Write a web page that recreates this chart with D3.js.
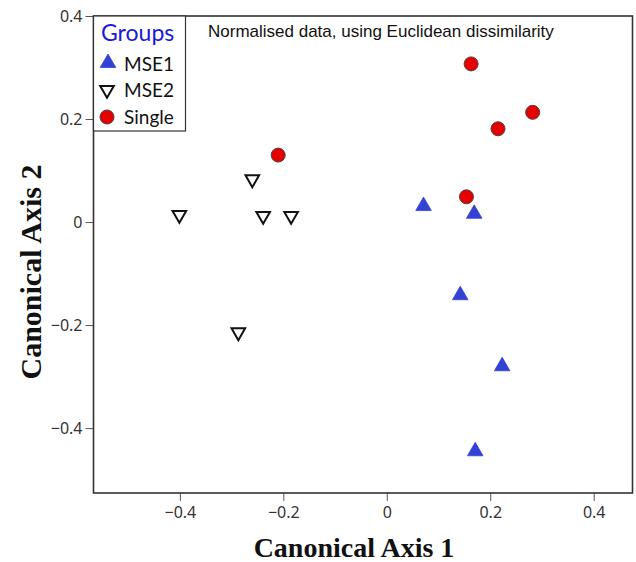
<!DOCTYPE html>
<html>
<head>
<meta charset="utf-8">
<script src="https://cdn.jsdelivr.net/npm/d3@7"></script>
<style>
  body { margin: 0; background: #fff; }
</style>
</head>
<body>
<div class="canvas"></div>
<script>
// group names and points
const groups = ["MSE1", "MSE2", "Single"];
const mse1 = [[0.071, 0.031], [0.169, 0.016], [0.142, -0.142], [0.223, -0.28], [0.171, -0.445]];
const mse2 = [[-0.401, 0.014], [-0.26, 0.083], [-0.239, 0.012], [-0.185, 0.012], [-0.287, -0.214]];
const single = [[0.163, 0.307], [0.282, 0.213], [0.215, 0.181], [0.154, 0.049], [-0.21, 0.13]];
const xTicks = [-0.4, -0.2, 0, 0.2, 0.4];
const yTicks = [-0.4, -0.2, 0, 0.2, 0.4];

const W = 636, H = 562;
const pl = 93.5, pr = 632.5, pt = 16, pb = 493;

const svg = d3.select(".canvas")
  .append("svg")
  .attr("width", W)
  .attr("height", H)
  .style("display", "block");

const x = d3.scaleLinear().domain([-0.567, 0.475]).range([pl, pr]);
const y = d3.scaleLinear().domain([-0.526, 0.4]).range([pb, pt]);

const fmt = d => (d === 0 ? "0" : d3.format(".1f")(d));

const xAxis = svg.append("g")
  .attr("transform", `translate(0,${pb})`)
  .call(d3.axisBottom(x).tickValues(xTicks).tickFormat(fmt).tickSize(8).tickPadding(6));
const yAxis = svg.append("g")
  .attr("transform", `translate(${pl},0)`)
  .call(d3.axisLeft(y).tickValues(yTicks).tickFormat(fmt).tickSize(8).tickPadding(3));

[xAxis, yAxis].forEach(a => {
  a.select(".domain").remove();
  a.selectAll("line").attr("stroke", "#555");
  a.selectAll("text")
    .attr("fill", "#333")
    .style("font-family", "'Noto Sans', sans-serif")
    .style("font-size", "16px");
});
yAxis.selectAll("text").attr("dy", "0.35em");

// frame
svg.append("rect")
  .attr("x", pl)
  .attr("y", pt)
  .attr("width", pr - pl)
  .attr("height", pb - pt)
  .attr("fill", "none")
  .attr("stroke", "#333")
  .attr("stroke-width", 1.6);

const blue = "#3442d4";
const red = "#e60000";
const tri = d3.symbol().type(d3.symbolTriangle).size(105);
const triSmall = d3.symbol().type(d3.symbolTriangle).size(80);

function upTri(sel) {
  sel.attr("d", tri).attr("fill", blue).attr("stroke", blue).attr("stroke-width", 0.8);
}
function downTri(sel) {
  sel.attr("d", triSmall).attr("fill", "none").attr("stroke", "#111").attr("stroke-width", 2);
}
function dot(sel) {
  sel.attr("r", 7).attr("fill", red).attr("stroke", "#444").attr("stroke-width", 1);
}

const pts = svg.append("g");
pts.selectAll("path.mse1")
  .data(mse1)
  .enter()
  .append("path")
  .attr("class", "mse1")
  .attr("transform", d => `translate(${x(d[0])},${y(d[1])})`)
  .call(upTri);
pts.selectAll("path.mse2")
  .data(mse2)
  .enter()
  .append("path")
  .attr("class", "mse2")
  .attr("transform", d => `translate(${x(d[0])},${y(d[1])}) rotate(180)`)
  .call(downTri);
pts.selectAll("circle.single")
  .data(single)
  .enter()
  .append("circle")
  .attr("class", "single")
  .attr("cx", d => x(d[0]))
  .attr("cy", d => y(d[1]))
  .call(dot);

// legend
const lg = svg.append("g");
lg.append("rect")
  .attr("x", pl)
  .attr("y", pt)
  .attr("width", 92)
  .attr("height", 115)
  .attr("fill", "#fff")
  .attr("stroke", "#333")
  .attr("stroke-width", 1.2);
lg.append("text")
  .attr("x", 101)
  .attr("y", 41)
  .attr("fill", "#1a1adc")
  .text("Groups")
  .style("font-family", "Lato, sans-serif")
  .style("font-size", "23px");
const rows = [65, 91, 118];
groups.forEach((g, i) => {
  const cy = rows[i];
  if (i === 0) lg.append("path").attr("transform", `translate(108,${cy - 2})`).call(upTri);
  if (i === 1) lg.append("path").attr("transform", `translate(107,${cy - 1}) rotate(180)`).call(downTri);
  if (i === 2) lg.append("circle").attr("cx", 107).attr("cy", cy - 1).call(dot);
  lg.append("text")
    .attr("x", 124)
    .attr("y", cy + 6)
    .attr("fill", "#111")
    .text(g)
    .style("font-family", "Lato, sans-serif")
    .style("font-size", "19px");
});

// note
svg.append("text")
  .attr("x", 208)
  .attr("y", 37)
  .attr("fill", "#111")
  .text("Normalised data, using Euclidean dissimilarity")
  .style("font-family", "'Liberation Sans', Arial, sans-serif")
  .style("font-size", "17px");

// axis titles
svg.append("text")
  .attr("x", 354)
  .attr("y", 557)
  .attr("text-anchor", "middle")
  .attr("fill", "#111")
  .text("Canonical Axis 1")
  .style("font-family", "'Liberation Serif', 'Times New Roman', serif")
  .style("font-weight", "bold")
  .style("font-size", "28px");
svg.append("text")
  .attr("transform", "translate(41,272) rotate(-90)")
  .attr("text-anchor", "middle")
  .attr("fill", "#111")
  .text("Canonical Axis 2")
  .style("font-family", "'Liberation Serif', 'Times New Roman', serif")
  .style("font-weight", "bold")
  .style("font-size", "30px");
</script>
</body>
</html>
